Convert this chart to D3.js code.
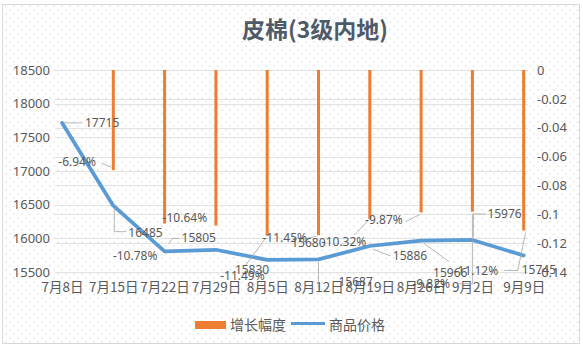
<!DOCTYPE html>
<html>
<head>
<meta charset="utf-8">
<script src="https://cdn.jsdelivr.net/npm/d3@7"></script>
<style>
html,body{margin:0;padding:0;background:#fff;}
svg{display:block;}
text{font-family:"Noto Sans CJK SC","Noto Sans",sans-serif;}
</style>
</head>
<body>
<script>
// ---- data ----
const categories = ["7月8日","7月15日","7月22日","7月29日","8月5日","8月12日","8月19日","8月26日","9月2日","9月9日"];
const price = [17715,16485,15805,15830,15680,15687,15886,15966,15976,15745];
const growth = [null,-0.0694,-0.1064,-0.1078,-0.1149,-0.1145,-0.1032,-0.0987,-0.0982,-0.1112];
const leftTicks = [15500,16000,16500,17000,17500,18000,18500];
const rightTicks = [0,-0.02,-0.04,-0.06,-0.08,-0.1,-0.12,-0.14];
const title = "皮棉(3级内地)";
const seriesNames = ["增长幅度","商品价格"];

// ---- layout ----
const W = 583, H = 352;
const plot = {left:55, right:528, top:70, bottom:272};
const svg = d3.select("body").append("svg").attr("width",W).attr("height",H);

const defs = svg.append("defs");
const pat = defs.append("pattern").attr("id","dots").attr("width",8).attr("height",8).attr("patternUnits","userSpaceOnUse");
pat.append("circle").attr("cx",2).attr("cy",2).attr("r",0.65).attr("fill","#cfcfcf");
pat.append("circle").attr("cx",6).attr("cy",6).attr("r",0.65).attr("fill","#cfcfcf");

svg.append("rect").attr("x",0).attr("y",0).attr("width",W).attr("height",H).attr("fill","#fff");
svg.append("rect").attr("x",2.5).attr("y",4.5).attr("width",577).attr("height",339)
  .attr("fill","url(#dots)").attr("stroke","#d9d9d9").attr("stroke-width",1);

const x = d3.scalePoint().domain(categories).range([62,523.7]);
const yL = d3.scaleLinear().domain([15500,18500]).range([plot.bottom,plot.top]);
const yR = d3.scaleLinear().domain([-0.14,0]).range([plot.bottom,plot.top]);

// gridlines (both axes)
const grid = svg.append("g");
leftTicks.forEach(t=>grid.append("line").attr("x1",plot.left).attr("x2",plot.right)
  .attr("y1",Math.round(yL(t))+0.5).attr("y2",Math.round(yL(t))+0.5).attr("stroke","#e2e2e2"));
rightTicks.forEach(t=>grid.append("line").attr("x1",plot.left).attr("x2",plot.right)
  .attr("y1",Math.round(yR(t))+0.5).attr("y2",Math.round(yR(t))+0.5).attr("stroke","#e2e2e2"));

// axes (labels only)
const axL = svg.append("g").attr("transform",`translate(${plot.left-5},0)`)
  .call(d3.axisLeft(yL).tickValues(leftTicks).tickSize(0).tickPadding(0).tickFormat(d3.format("d")));
const axR = svg.append("g").attr("transform",`translate(${plot.right+9},0)`)
  .call(d3.axisRight(yR).tickValues(rightTicks).tickSize(0).tickPadding(0).tickFormat(d=>d===0?"0":String(+d.toFixed(2))));
const axB = svg.append("g").attr("transform",`translate(0,${plot.bottom+10})`)
  .call(d3.axisBottom(x).tickSize(0).tickPadding(0));
[axL,axR,axB].forEach(a=>{a.select(".domain").remove();
  a.selectAll("text").attr("fill","#595959").style("font-family",'"Noto Sans","Noto Sans CJK SC",sans-serif').style("font-size","13px");});
axB.selectAll("text").style("font-family",'"Noto Sans CJK SC",sans-serif').style("font-size","13.5px");

// bars (secondary axis)
const barData = categories.map((c,i)=>({c,v:growth[i]})).filter(d=>d.v!==null);
svg.append("g").selectAll("rect").data(barData).join("rect")
  .attr("x",d=>x(d.c)-1.5).attr("width",3)
  .attr("y",yR(0)).attr("height",d=>yR(d.v)-yR(0))
  .attr("fill","#ed7d31");

// line (primary axis)
const line = d3.line().x((d,i)=>x(categories[i])).y(d=>yL(d));
svg.append("path").datum(price).attr("d",line).attr("fill","none")
  .attr("stroke","#5b9bd5").attr("stroke-width",3.75).attr("stroke-linejoin","round").attr("stroke-linecap","round");

// data labels with leader lines (offsets relative to the data point)
const priceLab = [
  {dx:23,dy:0, lead:[[2,0],[20,0]]},
  {dx:15,dy:27, lead:[[1,2],[1,26],[13,26]]},
  {dx:17,dy:-14, lead:[[4,-8],[8,-13],[15,-13]]},
  {dx:19,dy:20, lead:null},
  {dx:24,dy:-17, lead:null},
  {dx:20,dy:22, lead:[[0,3],[0,30]]},
  {dx:23,dy:10, lead:[[3,3],[21,10]]},
  {dx:12,dy:32, lead:[[3,3],[28,21]]},
  {dx:15,dy:-26, lead:[[1,-3],[1,-26],[13,-26]]},
  {dx:-2,dy:14, lead:null}
];
const growthLab = [
  null,
  {dx:-55,dy:-8, lead:[[-12,-7],[-2,-3]]},
  {dx:-2,dy:-6, lead:null},
  {dx:-103,dy:30, lead:null},
  {dx:-47,dy:40, lead:[[-2,3],[-22,30]]},
  {dx:-56,dy:3, lead:[[-15,4],[-2,1]]},
  {dx:-48,dy:23, lead:[[-15,16],[-2,2]]},
  {dx:-56,dy:7, lead:[[-15,9],[-1,2]]},
  {dx:-60,dy:72, lead:[[0,2],[0,72],[-14,72]]},
  {dx:-70,dy:40, lead:[[-20,40],[-6,40],[2,2]]}
];
const labG = svg.append("g");
const leadG = labG.append("g");
const textG = labG.append("g");
function addLabel(px,py,cfg,txt){
  if(!cfg) return;
  if(cfg.lead){
    leadG.append("polyline").attr("points",cfg.lead.map(p=>[px+p[0],py+p[1]].join(",")).join(" "))
      .attr("fill","none").attr("stroke","#a6a6a6").attr("stroke-width",0.8);
  }
  textG.append("text").attr("x",px+cfg.dx).attr("y",py+cfg.dy).attr("dy","0.35em")
    .attr("fill","#595959").style("font-family",'"Noto Sans",sans-serif').style("font-size","12px").text(txt);
}
price.forEach((v,i)=>addLabel(x(categories[i]),yL(v),priceLab[i],String(v)));
growth.forEach((v,i)=>{ if(v!==null) addLabel(x(categories[i]),yR(v),growthLab[i],(v*100).toFixed(2)+"%"); });

// title
svg.append("text").attr("x",315).attr("y",30).attr("dy","0.35em").attr("text-anchor","middle")
  .attr("fill","#4f5a68").style("font-size","23px").style("font-weight","bold").text(title);

// legend
const lg = svg.append("g");
lg.append("rect").attr("x",195).attr("y",321).attr("width",31).attr("height",8).attr("fill","#ed7d31");
lg.append("text").attr("x",230).attr("y",325).attr("dy","0.35em").attr("fill","#595959").style("font-size","14px").text(seriesNames[0]);
lg.append("line").attr("x1",291).attr("x2",325).attr("y1",323.5).attr("y2",323.5).attr("stroke","#5b9bd5").attr("stroke-width",3);
lg.append("text").attr("x",329).attr("y",325).attr("dy","0.35em").attr("fill","#595959").style("font-size","14px").text(seriesNames[1]);
</script>
</body>
</html>
